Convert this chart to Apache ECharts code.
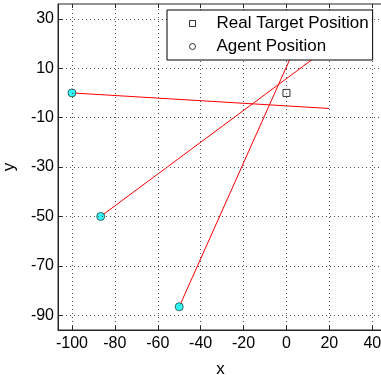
<!DOCTYPE html>
<html>
<head>
<meta charset="utf-8">
<script src="https://cdn.jsdelivr.net/npm/echarts@6/dist/echarts.min.js"></script>
<style>
  html, body { margin: 0; padding: 0; background: #fff; }
  #chart { width: 381px; height: 375px; }
</style>
</head>
<body>
<div id="chart"></div>
<script>
// Agent positions (start of each bearing line)
const agentX = [-100, -86.6, -50];
const agentY = [0, -50, -86.6];
// End points of the bearing lines
const bearingEndX = [19.8, 14.3, 4.9];
const bearingEndY = [-6.3, 15.0, 20.1];
// Real target position
const targetX = [0];
const targetY = [0];
// Tick values
const xTicks = [-100, -80, -60, -40, -20, 0, 20, 40];
const yTicks = [-90, -70, -50, -30, -10, 10, 30];

const X_MIN = -106.5, X_MAX = 45;
const Y_MIN = -96, Y_MAX = 36;
const FONT = '"Liberation Sans", Arial, Helvetica, sans-serif';
const AXIS_COLOR = '#262626';
const NO_SPLIT = {
  splitLine: { show: false },
  minorSplitLine: { show: false },
  minorTick: { show: false },
  splitArea: { show: false }
};

const bearingSeries = agentX.map((x, i) => ({
  type: 'line',
  name: 'bearing' + i,
  data: [[x, agentY[i]], [bearingEndX[i], bearingEndY[i]]],
  showSymbol: false,
  symbol: 'none',
  silent: true,
  z: 2,
  lineStyle: { color: '#ff0000', width: 1 }
}));

// Dotted grid lines at every tick value
const gridSeries = {
  type: 'line',
  name: 'grid',
  data: [],
  silent: true,
  z: 1,
  markLine: {
    silent: true,
    symbol: 'none',
    animation: false,
    label: { show: false },
    lineStyle: { color: '#505050', width: 1, type: [1, 3] },
    data: xTicks.map(v => ({ xAxis: v })).concat(yTicks.map(v => ({ yAxis: v })))
  }
};

// Short inward tick marks on the bottom, top and left edges of the box
const TICK_DY = 4 * (Y_MAX - Y_MIN) / 326;
const TICK_DX = 4 * (X_MAX - X_MIN) / 325;
const tickSegs = []
  .concat(xTicks.map(v => [{ coord: [v, Y_MIN] }, { coord: [v, Y_MIN + TICK_DY] }]))
  .concat(xTicks.map(v => [{ coord: [v, Y_MAX] }, { coord: [v, Y_MAX - TICK_DY] }]))
  .concat(yTicks.map(v => [{ coord: [X_MIN, v] }, { coord: [X_MIN + TICK_DX, v] }]));
const tickSeries = {
  type: 'line',
  name: 'ticks',
  data: [],
  silent: true,
  z: 3,
  markLine: {
    silent: true,
    symbol: 'none',
    animation: false,
    label: { show: false },
    lineStyle: { color: AXIS_COLOR, width: 1, type: 'solid' },
    data: tickSegs
  }
};

const option = {
  animation: false,
  backgroundColor: '#fff',
  grid: {
    left: 58, right: -2, top: 4, bottom: 45,
    containLabel: false, outerBoundsMode: 'none',
    show: true, borderColor: AXIS_COLOR, borderWidth: 1, backgroundColor: 'transparent'
  },
  xAxis: Object.assign({
    type: 'value',
    min: X_MIN,
    max: X_MAX,
    position: 'bottom',
    name: 'x',
    nameLocation: 'middle',
    nameGap: 31,
    nameTextStyle: { fontFamily: FONT, fontSize: 17, color: '#000' },
    axisLine: { show: true, onZero: false, lineStyle: { color: AXIS_COLOR, width: 1 } },
    axisTick: { show: false },
    axisLabel: { customValues: xTicks, fontFamily: FONT, fontSize: 16, color: '#000', margin: 6 }
  }, NO_SPLIT),
  yAxis: Object.assign({
    type: 'value',
    min: Y_MIN,
    max: Y_MAX,
    position: 'left',
    name: 'y',
    nameLocation: 'middle',
    nameGap: 40,
    nameTextStyle: { fontFamily: FONT, fontSize: 17, color: '#000' },
    axisLine: { show: true, onZero: false, lineStyle: { color: AXIS_COLOR, width: 1 } },
    axisTick: { show: false },
    axisLabel: { customValues: yTicks, fontFamily: FONT, fontSize: 16, color: '#000', margin: 4 }
  }, NO_SPLIT),
  legend: {
    show: true,
    orient: 'vertical',
    left: 167,
    top: 10,
    z: 10,
    selectedMode: false,
    backgroundColor: '#fff',
    borderColor: '#000',
    borderWidth: 1,
    borderRadius: 0,
    padding: [5, 4, 5, 22],
    itemGap: 6,
    itemWidth: 6,
    itemHeight: 6,
    textStyle: { fontFamily: FONT, fontSize: 17, color: '#000', padding: [0, 0, 0, 16] },
    data: [
      { name: 'Real Target Position', icon: 'rect', itemStyle: { color: '#fff', borderColor: '#000', borderWidth: 1 } },
      { name: 'Agent Position', icon: 'circle', itemStyle: { color: '#fff', borderColor: '#000', borderWidth: 1 } }
    ]
  },
  series: [gridSeries, tickSeries].concat(bearingSeries, [
    {
      type: 'scatter',
      name: 'Real Target Position',
      data: targetX.map((x, i) => [x, targetY[i]]),
      symbol: 'rect',
      symbolSize: 7,
      z: 3,
      itemStyle: { color: 'rgba(255,255,255,0)', borderColor: '#000', borderWidth: 1 }
    },
    {
      type: 'scatter',
      name: 'Agent Position',
      data: agentX.map((x, i) => [x, agentY[i]]),
      symbol: 'circle',
      symbolSize: 8,
      z: 3,
      itemStyle: { color: '#00ffff', borderColor: '#1f3f3f', borderWidth: 1 }
    }
  ])
};

const chart = echarts.init(document.getElementById('chart'), null, { renderer: 'canvas' });
chart.setOption(option);
</script>
</body>
</html>
